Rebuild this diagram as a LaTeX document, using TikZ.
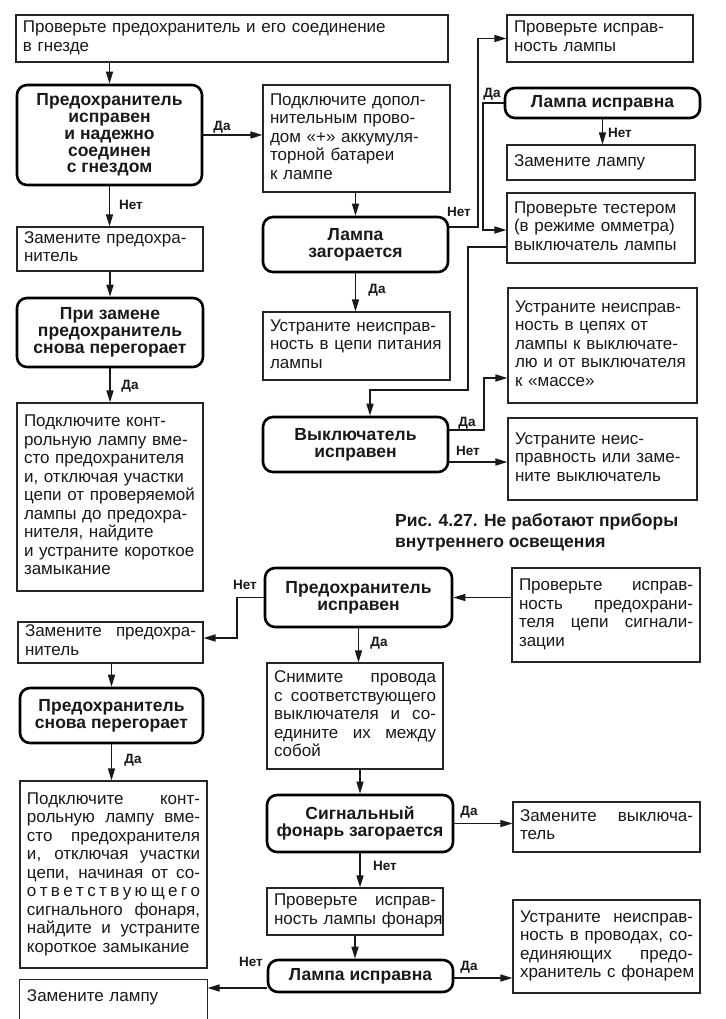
\documentclass[tikz,border=0pt]{standalone}
\usepackage{fontspec}
\setmainfont{Liberation Sans}
\usetikzlibrary{arrows.meta}
\newcommand\regf{\fontsize{17}{18.5}\selectfont}
\newcommand\decf{\fontsize{17.5}{16.8}\selectfont\bfseries}
\newcommand\lblf{\fontsize{13.5}{14}\selectfont\bfseries}
\newcommand\capf{\fontsize{17.5}{21}\selectfont\bfseries}
\tikzset{
  box/.style={draw=black!85, line width=1.1pt, inner xsep=7pt, inner ysep=2pt, font=\regf, align=left, text=black!90},
  dec/.style={draw=black, line width=2.6pt, rounded corners=10pt, inner sep=2pt, font=\decf, align=center, text=black!90},
  arr/.style={line width=1.4pt, draw=black!90, -{Triangle[length=12pt,width=7pt]}},
  lbl/.style={font=\lblf, inner sep=0pt, text=black!90},
  captxt/.style={font=\capf, align=left, inner sep=0pt, text=black!90}
}
\newcommand\jl[1]{\hbox to \tw pt{\spaceskip=0.28em plus 1fil\relax #1}}
\newcommand\bx[7][]{%
  \pgfmathsetmacro\bw{#5-#3}\pgfmathsetmacro\bh{#6-#4}\pgfmathsetmacro\tw{#5-#3-14}%
  \node[box,#1, minimum width=\bw pt, minimum height=\bh pt, text width=\tw pt] (#2) at ({(#3+#5)/2},{(#4+#6)/2}) {\begin{tabular}{@{}l@{}}#7\end{tabular}};}
\newcommand\dc[6]{%
  \pgfmathsetmacro\bw{#4-#2}\pgfmathsetmacro\bh{#5-#3}%
  \node[dec, minimum width=\bw pt, minimum height=\bh pt] (#1) at ({(#2+#4)/2},{(#3+#5)/2}) {#6};}
\begin{document}
\begin{tikzpicture}[x=1pt,y=-1pt]
\useasboundingbox[fill=white] (0,0) rectangle (725,1019);
% ---- upper chart
\bx{top}{16}{15}{448}{62}{Проверьте предохранитель и его соединение\\в гнезде}
\dc{d1}{17}{85}{202}{185}{Предохранитель\\исправен\\и надежно\\соединен\\с гнездом}
\bx{zp1}{17}{227}{203}{271}{Замените предохра-\\нитель}
\dc{d2}{17}{298}{203}{367}{При замене\\предохранитель\\снова перегорает}
\bx{kl1}{17}{403}{203}{591}{Подключите конт-\\рольную лампу вме-\\сто предохранителя\\и, отключая участки\\цепи от проверяемой\\лампы до предохра-\\нителя, найдите\\и устраните короткое\\замыкание}
\bx{pd}{263}{85}{450}{192}{Подключите допол-\\нительным прово-\\дом «+» аккумуля-\\торной батареи\\к лампе}
\dc{d3}{263}{217}{448}{272}{Лампа\\загорается}
\bx{ust1}{263}{312}{450}{380}{Устраните неисправ-\\ность в цепи питания\\лампы}
\dc{d4}{263}{417}{448}{472}{Выключатель\\исправен}
\bx{pil}{507}{15}{693}{62}{Проверьте исправ-\\ность лампы}
\dc{d5}{505}{88}{700}{118}{Лампа исправна}
\bx{zl1}{507}{145}{695}{180}{Замените лампу}
\bx{pt}{507}{193}{695}{263}{Проверьте тестером\\(в режиме омметра)\\выключатель лампы}
\bx{ust2}{508}{288}{697}{403}{Устраните неисправ-\\ность в цепях от\\лампы к выключате-\\лю и от выключателя\\к «массе»}
\bx{ust3}{508}{418}{697}{500}{Устраните неис-\\правность или заме-\\ните выключатель}
\node[captxt, anchor=west] (caption) at (395,532) {Рис. 4.27. Не работают приборы\\внутреннего освещения};
% ---- lower chart
\dc{d6}{265}{568}{452}{627}{Предохранитель\\исправен}
\bx{pps}{512}{568}{700}{662}{\jl{Проверьте исправ-}\\\jl{ность предохрани-}\\\jl{теля цепи сигнали-}\\зации}
\bx{zp2}{18}{623}{203}{662}{\jl{Замените предохра-}\\нитель}
\dc{d7}{20}{688}{203}{743}{Предохранитель\\снова перегорает}
\bx{kl2}{20}{781}{207}{968}{\jl{Подключите конт-}\\\jl{рольную лампу вме-}\\\jl{сто предохранителя}\\\jl{и, отключая участки}\\\jl{цепи, начиная от со-}\\\jl{о\hfil т\hfil в\hfil е\hfil т\hfil с\hfil т\hfil в\hfil у\hfil ю\hfil щ\hfil е\hfil г\hfil о}\\\jl{сигнального фонаря,}\\\jl{найдите и устраните}\\короткое замыкание}
\bx[draw=none]{zl2}{20}{980}{207}{1016}{Замените лампу}
\draw[line width=1.1pt, black!85] ([yshift=-20pt]zl2.south west) -- (zl2.north west) -- (zl2.north east) -- ([yshift=-20pt]zl2.south east);
\bx{snim}{267}{663}{443}{769}{\jl{Снимите провода}\\\jl{с соответствующего}\\\jl{выключателя и со-}\\\jl{едините их между}\\собой}
\dc{d8}{267}{795}{453}{852}{Сигнальный\\фонарь загорается}
\bx{zv}{513}{802}{700}{852}{\jl{Замените выключа-}\\тель}
\bx{pf}{267}{888}{443}{935}{\jl{Проверьте исправ-}\\ность лампы фонаря}
\dc{d9}{268}{960}{453}{992}{Лампа исправна}
\bx{ust4}{513}{900}{700}{993}{\jl{Устраните неисправ-}\\\jl{ность в проводах, со-}\\\jl{единяющих предо-}\\хранитель с фонарем}
% ---- connectors upper
\draw[arr] (top.south -| d1.north) -- (d1.north);
\draw[arr] (d1.east) -- (pd.west |- d1.east);
\draw[arr] (d1.south) -- (zp1.north -| d1.south);
\draw[arr] (zp1.south -| d2.north) -- (d2.north);
\draw[arr] (d2.south) -- (kl1.north -| d2.south);
\draw[arr] (pd.south -| d3.north) -- (d3.north);
\draw[arr] (d3.south) -- (ust1.north -| d3.south);
\draw[arr] (d3.east |- 0,227) -- (478,227) |- (pil.west);
\draw[arr] (d5.west) -- (d5.west -| 483,0) |- (pt.west |- 0,230);
\draw[arr] (d5.south) -- (zl1.north -| d5.south);
\draw[arr] (pt.west |- 0,247) -- (468,247) -- (468,390) -- (370,390) -- (d4.north -| 370,0);
\draw[arr] (d4.east |- 0,430) -- (484,430) |- (ust2.west |- 0,378);
\draw[arr] (d4.east |- 0,462) -- (ust3.west |- 0,462);
% ---- connectors lower
\draw[arr] (pps.west |- d6.east) -- (d6.east);
\draw[arr] (d6.south) -- (snim.north -| d6.south);
\draw[arr] (d6.west) -- (d6.west -| 237,0) |- (zp2.east |- 0,638);
\draw[arr] (zp2.south -| d7.north) -- (d7.north);
\draw[arr] (d7.south) -- (kl2.north -| d7.south);
\draw[arr] (snim.south -| d8.north) -- (d8.north);
\draw[arr] (d8.east) -- (zv.west |- d8.east);
\draw[arr] (d8.south) -- (pf.north -| d8.south);
\draw[arr] (pf.south) -- (d9.north -| pf.south);
\draw[arr] (d9.east |- 0,978) -- (ust4.west |- 0,978);
\draw[arr] (d9.west |- 0,988) -- (zl2.east |- 0,988);
% ---- labels
\node[lbl] (l1) at (222,127) {Да};
\node[lbl] (l2) at (131,205) {Нет};
\node[lbl] (l3) at (130,386) {Да};
\node[lbl] (l4) at (377,290) {Да};
\node[lbl] (l5) at (459,212) {Нет};
\node[lbl] (l6) at (492,94) {Да};
\node[lbl] (l7) at (620,133) {Нет};
\node[lbl] (l8) at (467,423) {Да};
\node[lbl] (l9) at (468,451) {Нет};
\node[lbl] (l10) at (245,585) {Нет};
\node[lbl] (l11) at (379,643) {Да};
\node[lbl] (l12) at (133,760) {Да};
\node[lbl] (l13) at (469,812) {Да};
\node[lbl] (l14) at (385,866) {Нет};
\node[lbl] (l15) at (469,967) {Да};
\node[lbl] (l16) at (251,962) {Нет};
\end{tikzpicture}
\end{document}
